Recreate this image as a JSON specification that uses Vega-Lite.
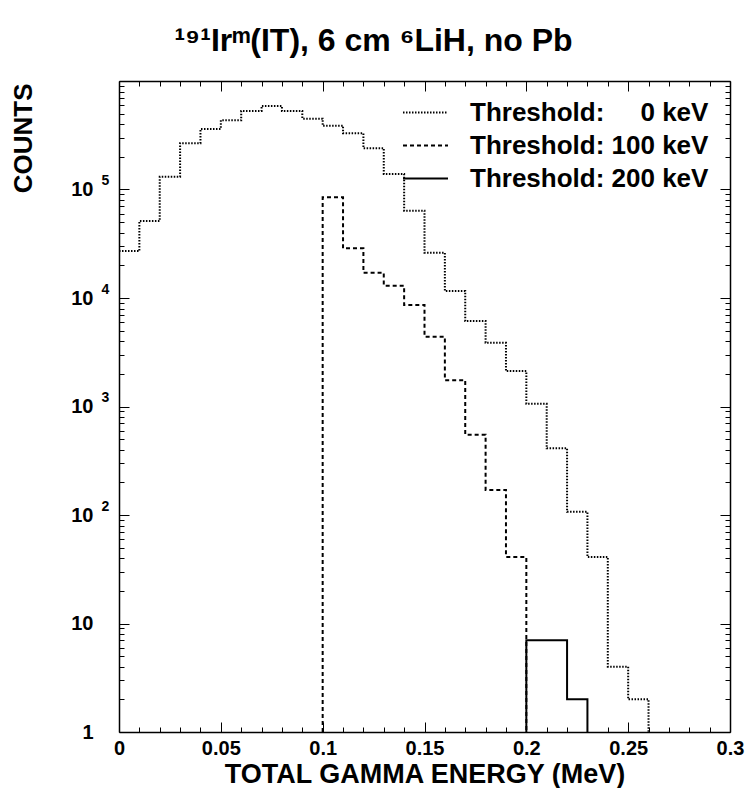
{
  "$schema": "https://vega.github.io/schema/vega-lite/v6.json",
  "width": 611,
  "height": 651,
  "autosize": {"type": "none"},
  "padding": {"left": 119, "top": 81, "right": 16, "bottom": 56},
  "background": "white",
  "config": {"view": {"stroke": null}, "font": "Liberation Sans"},
  "title": {
    "text": "¹⁹¹Irᵐ(IT), 6 cm ⁶LiH, no Pb",
    "font": "Liberation Sans",
    "fontSize": 32,
    "fontWeight": "bold",
    "color": "black",
    "anchor": "middle",
    "dx": -51,
    "dy": 41,
    "baseline": "alphabetic",
    "offset": 29
  },
  "data": {
    "values": [
      {"series": "0 keV", "k": 0, "x": 0, "y": 27100},
      {"series": "0 keV", "k": 1, "x": 0.01, "y": 51300},
      {"series": "0 keV", "k": 2, "x": 0.02, "y": 131000},
      {"series": "0 keV", "k": 3, "x": 0.03, "y": 267000},
      {"series": "0 keV", "k": 4, "x": 0.04, "y": 361000},
      {"series": "0 keV", "k": 5, "x": 0.05, "y": 434000},
      {"series": "0 keV", "k": 6, "x": 0.06, "y": 529000},
      {"series": "0 keV", "k": 7, "x": 0.07, "y": 589000},
      {"series": "0 keV", "k": 8, "x": 0.08, "y": 529000},
      {"series": "0 keV", "k": 9, "x": 0.09, "y": 450000},
      {"series": "0 keV", "k": 10, "x": 0.1, "y": 387000},
      {"series": "0 keV", "k": 11, "x": 0.11, "y": 330000},
      {"series": "0 keV", "k": 12, "x": 0.12, "y": 240000},
      {"series": "0 keV", "k": 13, "x": 0.13, "y": 139000},
      {"series": "0 keV", "k": 14, "x": 0.14, "y": 63800},
      {"series": "0 keV", "k": 15, "x": 0.15, "y": 26100},
      {"series": "0 keV", "k": 16, "x": 0.16, "y": 11600},
      {"series": "0 keV", "k": 17, "x": 0.17, "y": 6140},
      {"series": "0 keV", "k": 18, "x": 0.18, "y": 3870},
      {"series": "0 keV", "k": 19, "x": 0.19, "y": 2120},
      {"series": "0 keV", "k": 20, "x": 0.2, "y": 1060},
      {"series": "0 keV", "k": 21, "x": 0.21, "y": 412},
      {"series": "0 keV", "k": 22, "x": 0.22, "y": 107},
      {"series": "0 keV", "k": 23, "x": 0.23, "y": 41},
      {"series": "0 keV", "k": 24, "x": 0.24, "y": 4},
      {"series": "0 keV", "k": 25, "x": 0.25, "y": 2},
      {"series": "0 keV", "k": 26, "x": 0.26, "y": 0},
      {"series": "100 keV", "k": 0, "x": 0.1, "y": 0},
      {"series": "100 keV", "k": 1, "x": 0.1, "y": 84700},
      {"series": "100 keV", "k": 2, "x": 0.11, "y": 28700},
      {"series": "100 keV", "k": 3, "x": 0.12, "y": 17100},
      {"series": "100 keV", "k": 4, "x": 0.13, "y": 13000},
      {"series": "100 keV", "k": 5, "x": 0.14, "y": 8620},
      {"series": "100 keV", "k": 6, "x": 0.15, "y": 4400},
      {"series": "100 keV", "k": 7, "x": 0.16, "y": 1750},
      {"series": "100 keV", "k": 8, "x": 0.17, "y": 550},
      {"series": "100 keV", "k": 9, "x": 0.18, "y": 170},
      {"series": "100 keV", "k": 10, "x": 0.19, "y": 41},
      {"series": "100 keV", "k": 11, "x": 0.2, "y": 0},
      {"series": "200 keV", "k": 0, "x": 0.2, "y": 0},
      {"series": "200 keV", "k": 1, "x": 0.2, "y": 7},
      {"series": "200 keV", "k": 2, "x": 0.21, "y": 7},
      {"series": "200 keV", "k": 3, "x": 0.22, "y": 2},
      {"series": "200 keV", "k": 4, "x": 0.23, "y": 0}
    ]
  },
  "layer": [
    {
      "mark": {"type": "line", "interpolate": "step-after", "color": "black", "strokeWidth": 2, "clip": true},
      "encoding": {
        "x": {
          "field": "x",
          "type": "quantitative",
          "scale": {"domain": [0, 0.3], "nice": false, "zero": false},
          "axis": {
            "orient": "bottom",
            "values": [0,0.01,0.02,0.03,0.04,0.05,0.06,0.07,0.08,0.09,0.1,0.11,0.12,0.13,0.14,0.15,0.16,0.17,0.18,0.19,0.2,0.21,0.22,0.23,0.24,0.25,0.26,0.27,0.28,0.29,0.3],
            "labelExpr": "abs(datum.value*20 - round(datum.value*20)) < 0.000001 ? '' + datum.value : ''",
            "tickSize": {"condition": {"test": "abs(datum.value*20 - round(datum.value*20)) < 0.000001", "value": -10}, "value": -5},
            "labelPadding": 16,
            "labelFont": "Liberation Sans",
            "labelFontSize": 20,
            "labelFontWeight": "bold",
            "labelColor": "black",
            "labelFlush": false,
            "labelOverlap": false,
            "tickColor": "black",
            "domainColor": "black",
            "domainWidth": 1.5,
            "grid": false,
            "zindex": 1,
            "title": "TOTAL GAMMA ENERGY (MeV)",
            "titleFont": "Liberation Sans",
            "titleFontSize": 27,
            "titleFontWeight": "bold",
            "titleColor": "black",
            "titleY": 50,
            "titleBaseline": "alphabetic"
          }
        },
        "y": {
          "field": "y",
          "type": "quantitative",
          "scale": {"type": "log", "domain": [1, 1000000], "clamp": true, "nice": false},
          "axis": {
            "orient": "left",
            "values": [1,2,3,4,5,6,7,8,9,10,20,30,40,50,60,70,80,90,100,200,300,400,500,600,700,800,900,1000,2000,3000,4000,5000,6000,7000,8000,9000,10000,20000,30000,40000,50000,60000,70000,80000,90000,100000,200000,300000,400000,500000,600000,700000,800000,900000,1000000],
            "labelExpr": "datum.value == 1 ? '1' : (datum.value >= 10 && datum.value <= 100000 && indexof([10,100,1000,10000,100000], datum.value) >= 0) ? '10' : ''",
            "tickSize": {"condition": {"test": "indexof([1,10,100,1000,10000,100000,1000000], datum.value) >= 0", "value": -10}, "value": -5},
            "labelPadding": 36,
            "labelFont": "Liberation Sans",
            "labelFontSize": 20,
            "labelFontWeight": "bold",
            "labelColor": "black",
            "labelFlush": false,
            "labelOverlap": false,
            "tickColor": "black",
            "domainColor": "black",
            "domainWidth": 1.5,
            "grid": false,
            "zindex": 1,
            "title": "COUNTS",
            "titleFont": "Liberation Sans",
            "titleFontSize": 26,
            "titleFontWeight": "bold",
            "titleColor": "black",
            "titleAngle": 270,
            "titleAnchor": "end",
            "titleAlign": "right",
            "titleBaseline": "middle",
            "titleX": -96,
            "titleY": 2
          }
        },
        "strokeDash": {
          "field": "series",
          "type": "nominal",
          "scale": {"domain": ["0 keV", "100 keV", "200 keV"], "range": [[1.5, 1.5], [4, 3], [1, 0]]},
          "legend": {
            "orient": "none",
            "legendX": 293,
            "legendY": 18,
            "title": null,
            "padding": 0,
            "symbolType": "M-1.8,0H1.8",
            "symbolSize": 625,
            "symbolStrokeWidth": 2,
            "symbolStrokeColor": "black",
            "labelFont": "Liberation Sans",
            "labelFontSize": 26,
            "labelFontWeight": "bold",
            "labelColor": "black",
            "labelOffset": 31,
            "labelLimit": 500,
            "rowPadding": 6,
            "labelExpr": "datum.value == '0 keV' ? 'Threshold:\u00a0\u00a0\u00a0\u00a0\u00a00 keV' : 'Threshold: ' + datum.value"
          }
        },
        "order": {"field": "k", "type": "quantitative"}
      }
    },
    {
      "mark": {"type": "line", "interpolate": "step-after", "strokeOpacity": 0, "clip": true},
      "encoding": {
        "x": {
          "field": "x",
          "type": "quantitative",
          "axis": {
            "orient": "top",
            "values": [0,0.01,0.02,0.03,0.04,0.05,0.06,0.07,0.08,0.09,0.1,0.11,0.12,0.13,0.14,0.15,0.16,0.17,0.18,0.19,0.2,0.21,0.22,0.23,0.24,0.25,0.26,0.27,0.28,0.29,0.3],
            "labels": false,
            "title": null,
            "tickSize": {"condition": {"test": "abs(datum.value*20 - round(datum.value*20)) < 0.000001", "value": -10}, "value": -5},
            "tickColor": "black",
            "domainColor": "black",
            "domainWidth": 1.5,
            "grid": false,
            "zindex": 1
          }
        },
        "y": {
          "field": "y",
          "type": "quantitative",
          "axis": {
            "orient": "right",
            "values": [1,2,3,4,5,6,7,8,9,10,20,30,40,50,60,70,80,90,100,200,300,400,500,600,700,800,900,1000,2000,3000,4000,5000,6000,7000,8000,9000,10000,20000,30000,40000,50000,60000,70000,80000,90000,100000,200000,300000,400000,500000,600000,700000,800000,900000,1000000],
            "labels": false,
            "title": null,
            "tickSize": {"condition": {"test": "indexof([1,10,100,1000,10000,100000,1000000], datum.value) >= 0", "value": -10}, "value": -5},
            "tickColor": "black",
            "domainColor": "black",
            "domainWidth": 1.5,
            "grid": false,
            "zindex": 1
          }
        },
        "detail": {"field": "series", "type": "nominal"},
        "order": {"field": "k", "type": "quantitative"}
      }
    },
    {
      "mark": {"type": "line", "interpolate": "step-after", "strokeOpacity": 0, "clip": true},
      "encoding": {
        "x": {"field": "x", "type": "quantitative", "axis": null},
        "y": {
          "field": "y",
          "type": "quantitative",
          "axis": {
            "orient": "left",
            "values": [100, 1000, 10000, 100000],
            "labelExpr": "datum.value == 100 ? '2' : datum.value == 1000 ? '3' : datum.value == 10000 ? '4' : '5'",
            "ticks": false,
            "domain": false,
            "grid": false,
            "title": null,
            "labelAlign": "left",
            "labelPadding": 18,
            "labelOffset": -9,
            "labelFont": "Liberation Sans",
            "labelFontSize": 14,
            "labelFontWeight": "bold",
            "labelColor": "black",
            "labelFlush": false,
            "labelOverlap": false,
            "zindex": 1
          }
        },
        "detail": {"field": "series", "type": "nominal"},
        "order": {"field": "k", "type": "quantitative"}
      }
    }
  ]
}
